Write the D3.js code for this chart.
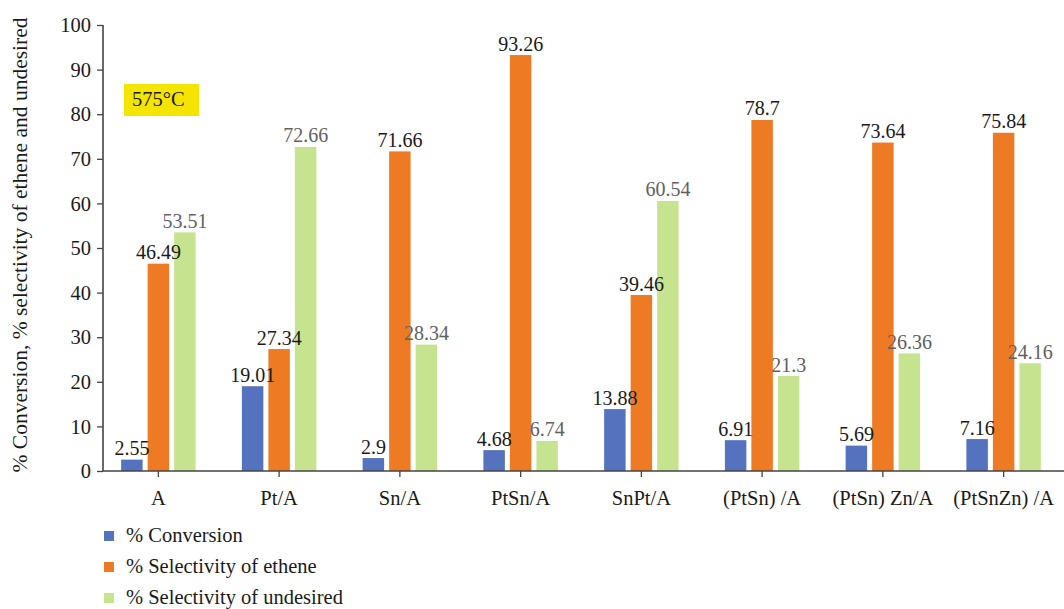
<!DOCTYPE html>
<html>
<head>
<meta charset="utf-8">
<script src="https://cdn.jsdelivr.net/npm/d3@7"></script>
<style>
  html, body { margin: 0; padding: 0; background: #fff; }
  svg { display: block; }
  svg text { font-family: "Liberation Serif", "DejaVu Serif", serif; }
</style>
</head>
<body>
<svg id="chart" width="1064" height="609"></svg>
<script>
// Catalysts tested at 575 °C
const categories = ["A", "Pt/A", "Sn/A", "PtSn/A", "SnPt/A", "(PtSn) /A", "(PtSn) Zn/A", "(PtSnZn) /A"];
const conversion = [2.55, 19.01, 2.9, 4.68, 13.88, 6.91, 5.69, 7.16];
const selEthene = [46.49, 27.34, 71.66, 93.26, 39.46, 78.7, 73.64, 75.84];
const selUndesired = [53.51, 72.66, 28.34, 6.74, 60.54, 21.3, 26.36, 24.16];
const seriesNames = ["% Conversion", "% Selectivity of ethene", "% Selectivity of undesired"];
const yTicks = [0, 10, 20, 30, 40, 50, 60, 70, 80, 90, 100];

const seriesValues = [conversion, selEthene, selUndesired];
const colors = ["#5472BE", "#EE7B24", "#C6E48F"];
const labelColors = ["#1a1a1a", "#1a1a1a", "#616161"];

const svg = d3.select("#chart");
const axisColor = "#444";
const serif = "'Liberation Serif', 'DejaVu Serif', serif";

const x0 = d3.scaleBand().domain(categories).range([98, 1064]).padding(0);
const x1 = d3.scaleBand().domain(d3.range(seriesNames.length))
  .range([-39.75, 39.75]).paddingInner(0.19).paddingOuter(0.095);
const y = d3.scaleLinear().domain([0, 100]).range([471, 25]);
const axisX = 103;

// Bars
const groups = svg.append("g").selectAll("g")
  .data(categories)
  .join("g")
  .attr("transform", d => `translate(${x0(d) + x0.bandwidth() / 2},0)`);

groups.selectAll("rect")
  .data((d, i) => seriesValues.map((vals, s) => ({ s, v: vals[i] })))
  .join("rect")
  .attr("x", d => x1(d.s))
  .attr("width", x1.bandwidth())
  .attr("y", d => y(d.v))
  .attr("height", d => y(0) - y(d.v))
  .attr("fill", d => colors[d.s]);

// Value labels
groups.selectAll("text")
  .data((d, i) => seriesValues.map((vals, s) => ({ s, v: vals[i] })))
  .join("text")
  .attr("x", d => x1(d.s) + x1.bandwidth() / 2)
  .attr("y", d => y(d.v) - 4.5)
  .attr("text-anchor", "middle")
  .attr("font-family", serif)
  .attr("font-size", 20)
  .attr("fill", d => labelColors[d.s])
  .text(d => String(d.v));

// Y axis
const yAxis = svg.append("g")
  .attr("transform", `translate(${axisX},0)`)
  .call(d3.axisLeft(y).tickValues(yTicks).tickSize(6).tickPadding(6).tickFormat(d3.format("d")));
yAxis.attr("font-family", serif);
yAxis.select(".domain").attr("stroke", axisColor).attr("stroke-width", 1.6)
  .attr("d", `M0,${y(100)}V${y(0)}`);
yAxis.selectAll(".tick line").attr("stroke", axisColor).attr("stroke-width", 1.3);
yAxis.selectAll(".tick text").attr("font-size", 20.5).attr("fill", "#1a1a1a")
  .attr("font-family", serif).attr("dy", "0.33em");

// X axis
const xAxis = svg.append("g")
  .attr("transform", `translate(0,${y(0)})`)
  .call(d3.axisBottom(x0).tickSize(6).tickPadding(13));
xAxis.attr("font-family", serif);
xAxis.select(".domain").attr("stroke", axisColor).attr("stroke-width", 1.6)
  .attr("d", `M${axisX},0H1064`);
xAxis.selectAll(".tick line").attr("stroke", axisColor).attr("stroke-width", 1.3);
xAxis.selectAll(".tick text").attr("font-size", 20.5).attr("fill", "#1a1a1a")
  .attr("font-family", serif);

// Y axis title
svg.append("text")
  .attr("transform", "translate(27,245) rotate(-90)")
  .attr("text-anchor", "middle")
  .attr("font-family", serif)
  .attr("font-size", 21.5)
  .attr("fill", "#1a1a1a")
  .text("% Conversion, % selectivity of ethene and undesired");

// Temperature badge
svg.append("rect")
  .attr("x", 124).attr("y", 84).attr("width", 75).attr("height", 32)
  .attr("fill", "#F5E400");
svg.append("text")
  .attr("x", 132).attr("y", 106)
  .attr("font-family", serif)
  .attr("font-size", 20.5)
  .attr("fill", "#1a1a1a")
  .text("575°C");

// Legend
const legend = svg.append("g").selectAll("g")
  .data(seriesNames)
  .join("g")
  .attr("transform", (d, i) => `translate(104,${536 + i * 31})`);
legend.append("rect")
  .attr("x", 0).attr("y", -5).attr("width", 10).attr("height", 10)
  .attr("fill", (d, i) => colors[i]);
legend.append("text")
  .attr("x", 22).attr("y", 6)
  .attr("font-family", serif)
  .attr("font-size", 20.5)
  .attr("fill", "#1a1a1a")
  .text(d => d);
</script>
</body>
</html>
